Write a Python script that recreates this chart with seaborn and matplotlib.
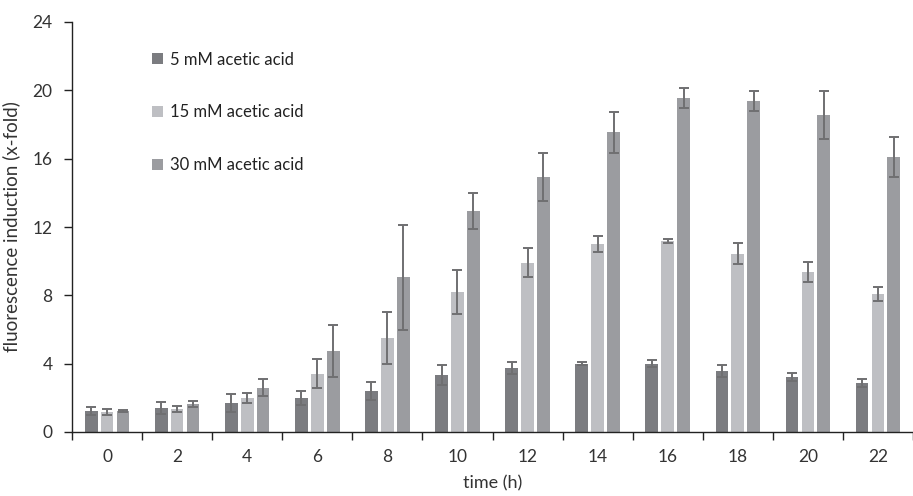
import numpy as np
import pandas as pd
import matplotlib
matplotlib.use("Agg")
import matplotlib.pyplot as plt
import seaborn as sns

times = [0, 2, 4, 6, 8, 10, 12, 14, 16, 18, 20, 22]
series = ["5 mM acetic acid", "15 mM acetic acid", "30 mM acetic acid"]

mean_5 = [1.23, 1.40, 1.70, 1.99, 2.40, 3.34, 3.75, 4.00, 4.00, 3.57, 3.22, 2.87]
err_5 = [0.25, 0.35, 0.50, 0.40, 0.55, 0.58, 0.35, 0.10, 0.20, 0.37, 0.25, 0.25]
mean_15 = [1.15, 1.35, 1.99, 3.41, 5.50, 8.20, 9.91, 11.02, 11.18, 10.44, 9.37, 8.08]
err_15 = [0.17, 0.15, 0.30, 0.85, 1.50, 1.30, 0.86, 0.47, 0.13, 0.60, 0.60, 0.43]
mean_30 = [1.23, 1.64, 2.60, 4.74, 9.07, 12.94, 14.95, 17.56, 19.55, 19.38, 18.56, 16.10]
err_30 = [0.05, 0.20, 0.50, 1.50, 3.07, 1.07, 1.40, 1.20, 0.59, 0.58, 1.40, 1.15]

colors = ["#7b7c80", "#bebfc3", "#9b9ca0"]
err_color = "#6f6f71"

means = [mean_5, mean_15, mean_30]
errs = [err_5, err_15, err_30]

df = pd.DataFrame({
    "time": [str(t) for s in series for t in times],
    "series": [s for s in series for _ in times],
    "value": [v for m in means for v in m],
})

sns.set_style("white")
plt.rcParams["font.family"] = ["Lato", "DejaVu Sans"]

fig = plt.figure(figsize=(9.13, 4.96), dpi=100)
ax = fig.add_axes([72 / 913, 64 / 496, 841 / 913, 410 / 496])

sns.barplot(data=df, x="time", y="value", hue="series", hue_order=series,
            order=[str(t) for t in times], palette=colors, errorbar=None,
            width=0.68, gap=0.2, saturation=1, ax=ax, linewidth=0)

for cont, e in zip(ax.containers, errs):
    xs = [b.get_x() + b.get_width() / 2 for b in cont]
    ys = [b.get_height() for b in cont]
    ax.errorbar(xs, ys, yerr=e, fmt="none", ecolor=err_color, elinewidth=1.4,
                capsize=3.4, capthick=1.4, zorder=5)

ax.set_ylim(0, 24)
ax.set_yticks([0, 4, 8, 12, 16, 20, 24])
ax.set_xlim(-0.5, 11.38)

# ticks at category boundaries, labels at centres
ax.set_xticks(np.arange(-0.5, 12, 1.0), minor=False)
ax.set_xticklabels([])
ax.set_xticks(np.arange(0, 12, 1.0), minor=True)
ax.set_xticklabels([str(t) for t in times], minor=True)
ax.tick_params(axis="x", which="major", direction="out", length=6, width=1.0,
               color="#222222", bottom=True)
ax.tick_params(axis="x", which="minor", length=0, pad=12, labelsize=12.5,
               labelcolor="#333333", bottom=True)
ax.tick_params(axis="y", direction="out", length=6, width=1.0, color="#222222",
               left=True, labelsize=12.5, labelcolor="#333333", pad=8)

for side in ["top", "right"]:
    ax.spines[side].set_visible(False)
for side in ["left", "bottom"]:
    ax.spines[side].set_color("#222222")
    ax.spines[side].set_linewidth(1.0)

ax.set_xlabel("time (h)", fontsize=13, color="#333333", labelpad=8)
ax.set_ylabel("fluorescence induction (x-fold)", fontsize=13.5, color="#333333",
              labelpad=9)

leg = ax.legend(loc="upper left", bbox_to_anchor=(73 / 841, 1 - 23 / 410),
                frameon=False, fontsize=12, handlelength=0.65, handleheight=0.65,
                handletextpad=0.45, labelspacing=2.2, borderaxespad=0)
for t in leg.get_texts():
    t.set_color("#222222")

fig.savefig("out.png", dpi=100)
